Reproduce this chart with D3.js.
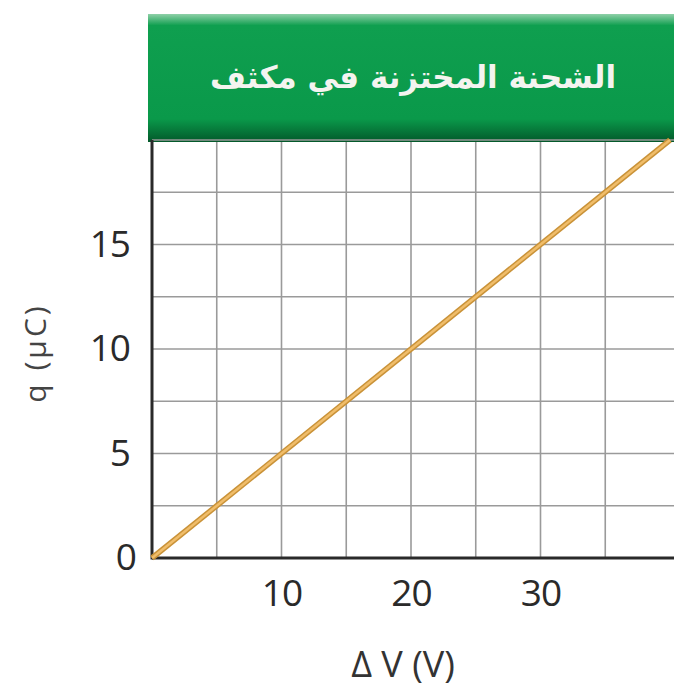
<!DOCTYPE html>
<html><head><meta charset="utf-8">
<script src="https://cdn.jsdelivr.net/npm/d3@7"></script>
<style>body{margin:0;background:#fff}svg{display:block}</style>
</head><body>
<script>
const voltage = [0, 40];          // ΔV (V)
const charge = [0, 20];           // q (µC)
const xTicks = [10, 20, 30];
const yTicks = [0, 5, 10, 15];
const xGrid = [5, 10, 15, 20, 25, 30, 35];
const yGrid = [2.5, 5, 7.5, 10, 12.5, 15, 17.5, 20];
const title = "الشحنة المختزنة في مكثف";
const xLabel = "Δ V (V)";
const yLabel = "q (µC)";

const W = 674, H = 688;
const svg = d3.select("body").append("svg").attr("width", W).attr("height", H);
const pLeft = 152, pBottom = 558, pTop = 140;
const x = d3.scaleLinear().domain([0, 40]).range([pLeft, pLeft + 40 * 12.95]);
const y = d3.scaleLinear().domain([0, 20]).range([pBottom, pTop]);

const defs = svg.append("defs");
const g1 = defs.append("linearGradient").attr("id", "hdr").attr("x1", 0).attr("y1", 0).attr("x2", 0).attr("y2", 1);
g1.append("stop").attr("offset", "0%").attr("stop-color", "#8fd0a8");
g1.append("stop").attr("offset", "9%").attr("stop-color", "#0f9f4f");
g1.append("stop").attr("offset", "82%").attr("stop-color", "#0a994a");
g1.append("stop").attr("offset", "100%").attr("stop-color", "#03582a");

svg.append("rect").attr("x", pLeft - 4).attr("y", 14).attr("width", W - pLeft + 4).attr("height", pTop - 12)
  .attr("fill", "url(#hdr)");
svg.append("text").attr("x", 413).attr("y", 88).attr("text-anchor", "middle")
  .attr("font-family", "DejaVu Sans").attr("font-weight", "bold").attr("font-size", 31)
  .attr("fill", "#f4f4f0").attr("direction", "rtl").text(title);

// grid
svg.append("g").selectAll("line").data(xGrid).join("line")
  .attr("x1", d => x(d)).attr("x2", d => x(d)).attr("y1", y(20) + 2).attr("y2", y(0))
  .attr("stroke", "#9a9a9a").attr("stroke-width", 1.6);
svg.append("g").selectAll("line").data(yGrid).join("line")
  .attr("x1", x(0)).attr("x2", W).attr("y1", d => y(d)).attr("y2", d => y(d))
  .attr("stroke", "#9a9a9a").attr("stroke-width", 1.6);

// axes
const xAxis = d3.axisBottom(x).tickValues(xTicks).tickSize(0).tickPadding(22);
const gx = svg.append("g").attr("transform", `translate(0,${pBottom})`).call(xAxis);
gx.select(".domain").remove();
gx.selectAll("text").attr("font-family", "Open Sans").attr("font-size", 37)
  .attr("letter-spacing", -1).attr("fill", "#2a2a2a");
const yAxis = d3.axisLeft(y).tickValues(yTicks).tickSize(0).tickPadding(22);
const gy = svg.append("g").attr("transform", `translate(${pLeft},0)`).call(yAxis);
gy.select(".domain").remove();
gy.selectAll("text").attr("font-family", "Open Sans").attr("font-size", 37)
  .attr("letter-spacing", -1).attr("fill", "#2a2a2a")
  .attr("dx", d => d === 0 ? 6 : 0);

svg.append("line").attr("x1", x(0)).attr("x2", W).attr("y1", pBottom).attr("y2", pBottom)
  .attr("stroke", "#2a2a2a").attr("stroke-width", 3);
svg.append("line").attr("x1", x(0)).attr("x2", x(0)).attr("y1", pTop).attr("y2", pBottom + 1.5)
  .attr("stroke", "#2a2a2a").attr("stroke-width", 3);

// data line
const lineGen = d3.line().x((d, i) => x(voltage[i])).y(d => y(d));
svg.append("path").datum(charge).attr("d", lineGen).attr("fill", "none")
  .attr("stroke", "#c99238").attr("stroke-width", 5.5);
svg.append("path").datum(charge).attr("d", lineGen).attr("fill", "none")
  .attr("stroke", "#f0bd6a").attr("stroke-width", 2.5);

// labels
svg.append("text").attr("x", 403).attr("y", 677).attr("text-anchor", "middle")
  .attr("font-family", "Open Sans").attr("font-size", 36).attr("fill", "#333").text(xLabel);
svg.append("text").attr("transform", "translate(46,353) rotate(-90)").attr("text-anchor", "middle")
  .attr("font-family", "Open Sans").attr("font-size", 30).attr("letter-spacing", 3)
  .attr("fill", "#444").text(yLabel);
</script>
</body></html>
